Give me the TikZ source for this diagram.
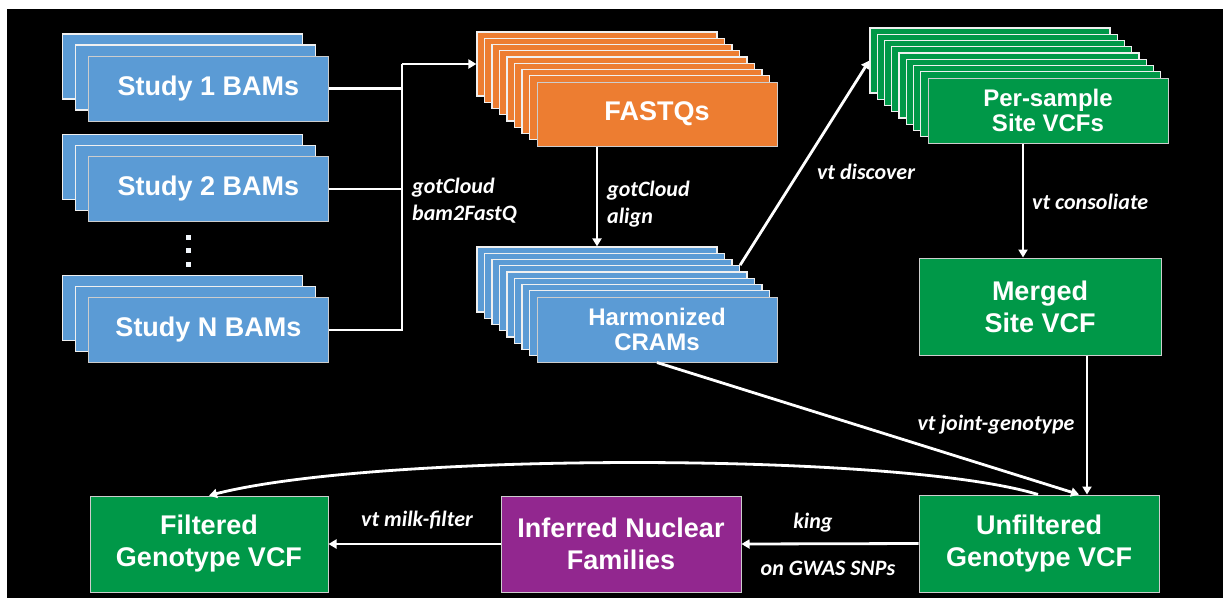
\documentclass[tikz,border=0pt]{standalone}
\usepackage{fontspec}
\setmainfont{Liberation Sans}
\newfontfamily\labfont{Carlito}
\usetikzlibrary{calc,arrows.meta}
\definecolor{cblue}{RGB}{91,155,213}
\definecolor{corange}{RGB}{237,125,49}
\definecolor{cgreen}{RGB}{0,152,72}
\definecolor{cpurple}{RGB}{146,39,143}
\definecolor{edgegray}{RGB}{205,205,205}
\tikzset{
  box/.style={draw=edgegray, line width=1pt, text=white, align=center, inner sep=0pt,
    minimum width=240pt, font=\fontsize{27}{32}\selectfont\bfseries},
  smalltext/.style={font=\fontsize{24}{25}\selectfont\bfseries},
  layer/.style={draw=white!88!gray, line width=1.2pt, minimum width=240pt, inner sep=0pt},
  conn/.style={draw=white, line width=2.8pt},
  arr/.style={conn, -{Triangle[length=8pt,width=9pt]}},
  lab/.style={text=white, inner sep=0pt, align=left,
    font=\labfont\bfseries\itshape\fontsize{22}{27}\selectfont},
}
\begin{document}
\begin{tikzpicture}[x=1pt,y=-1pt]
\fill[white] (0,0) rectangle (1223,598);
\fill[black] (7,9) rectangle (1223,598);
\useasboundingbox (0,0) rectangle (1223,598);

% ---- Study stacks
\foreach \i in {2,1} {
  \node[layer, fill=cblue, minimum height=65pt] (s1l\i) at ({208.5-13*\i},{88.5-11*\i}) {};
}
\node[box, fill=cblue, minimum height=65pt] (s1) at (208.5,88.5) {Study 1 BAMs};
\foreach \i in {2,1} {
  \node[layer, fill=cblue, minimum height=65pt] (s2l\i) at ({208.5-13*\i},{189-11*\i}) {};
}
\node[box, fill=cblue, minimum height=65pt] (s2) at (208.5,189) {Study 2 BAMs};
\foreach \i in {2,1} {
  \node[layer, fill=cblue, minimum height=65pt] (sNl\i) at ({208.5-13*\i},{330-11*\i}) {};
}
\node[box, fill=cblue, minimum height=65pt] (sN) at (208.5,330) {Study N BAMs};
\foreach \yy in {234.5,247.5,261.5} {
  \fill[white!92!cblue] (185.5,\yy) rectangle +(5,5);
}

% ---- FASTQs stack
\foreach \i in {8,...,1} {
  \node[layer, fill=corange, minimum height=64pt] (fq\i) at ({657-7.5*\i},{114-6.25*\i}) {};
}
\node[box, fill=corange, minimum height=64pt] (fq) at (657,114) {FASTQs};

% ---- CRAMs stack
\foreach \i in {8,...,1} {
  \node[layer, fill=cblue, minimum height=65pt] (cr\i) at ({657-7.5*\i},{329.5-6.25*\i}) {};
}
\node[box, smalltext, fill=cblue, minimum height=65pt] (cr) at (657,329.5) {Harmonized\\CRAMs};

% ---- Per-sample stack
\foreach \i in {8,...,1} {
  \node[layer, fill=cgreen, minimum height=65pt] (ps\i) at ({1048-7.25*\i},{110.5-6.25*\i}) {};
}
\node[box, smalltext, fill=cgreen, minimum height=65pt] (ps) at (1048,110.5) {Per-sample\\Site VCFs};

% ---- single boxes
\node[box, fill=cgreen, minimum width=242pt, minimum height=97pt] (mg) at (1040,306.5) {Merged\\Site VCF};
\node[box, fill=cgreen, minimum height=97pt] (unf) at (1039,543.5) {Unfiltered\\Genotype VCF};
\node[box, fill=cpurple, minimum height=96pt] (inf) at (621,544) {Inferred Nuclear\\Families};
\node[box, fill=cgreen, minimum width=238pt, minimum height=96pt] (filt) at (209,544) {Filtered\\Genotype VCF};

% ---- connectors
\coordinate (bus) at (402,64);
\draw[conn] (s1.east) -| (bus);
\draw[conn] (s2.east) -| (bus);
\draw[conn] (sN.east) -| (bus);
\draw[arr] (bus) -- (fq8.west);
\draw[arr] (cr8.north |- fq.south) -- (cr8.north);
\draw[arr] (cr5.north east) -- (ps8.west);
\draw[arr] ([xshift=-25pt]ps.south) -- ([xshift=-17pt]mg.north);
\draw[arr] ([xshift=47pt]mg.south) -- ([xshift=47pt]mg.south |- unf.north);
\draw[arr] (cr.south) -- ([xshift=40pt]unf.north);
\draw[arr] ([xshift=-1pt]unf.north) .. controls (900,452) and (380,452) .. (filt.north);
\draw[arr] (unf.west) -- (inf.east);
\draw[arr] (inf.west) -- (filt.east);

% ---- labels
\node[lab, anchor=west] (l1) at (412,201) {gotCloud\\bam2FastQ};
\node[lab, anchor=west] (l2) at (607,204) {gotCloud\\align};
\node[lab] (l3) at (866,172) {vt discover};
\node[lab, anchor=west] (l4) at (1032,202) {vt consoliate};
\node[lab] (l5) at (996,425) {vt joint-genotype};
\node[lab] (l6) at (417,520) {vt milk-filter};
\node[lab] (l7) at (813,523) {king};
\node[lab] (l8) at (828,568) {on GWAS SNPs};
\end{tikzpicture}
\end{document}
